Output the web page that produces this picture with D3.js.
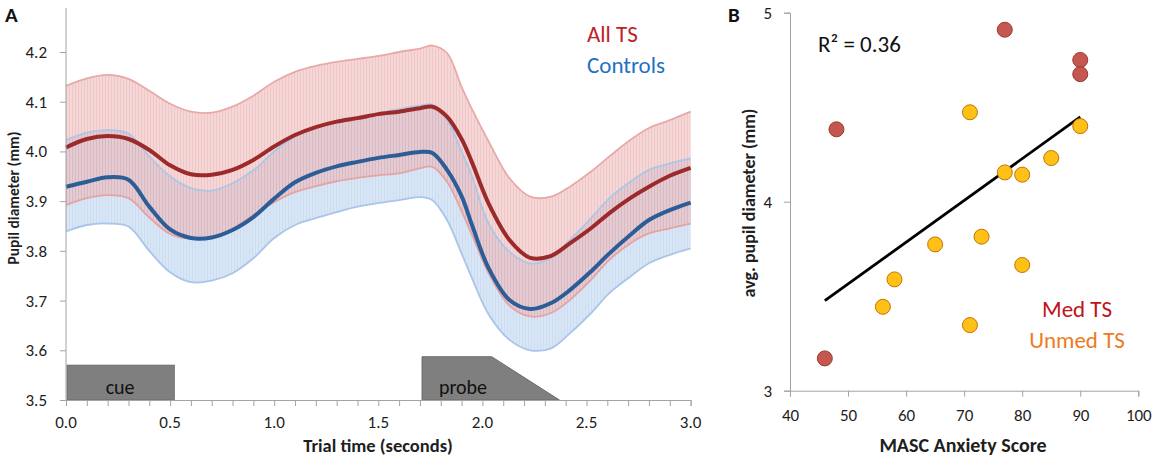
<!DOCTYPE html>
<html><head><meta charset="utf-8">
<script src="https://cdn.jsdelivr.net/npm/d3@7"></script>
<style>
body{margin:0;background:#fff}
svg text{font-family:Carlito,Lato,sans-serif}
</style></head><body>
<svg id="c" width="1158" height="461"></svg>
<script>
// ---------- Panel A data ----------
const timeS   = [0,0.1,0.2,0.3,0.4,0.5,0.6,0.7,0.8,0.9,1.0,1.1,1.2,1.3,1.4,1.5,1.6,1.7,1.76,1.83,1.9,1.95,2.03,2.13,2.23,2.33,2.42,2.52,2.61,2.71,2.8,2.9,3.0];
const tsMean  = [4.008,4.025,4.031,4.025,4.003,3.972,3.954,3.953,3.963,3.983,4.01,4.033,4.049,4.06,4.067,4.075,4.08,4.087,4.09,4.07,4.025,3.978,3.895,3.822,3.786,3.79,3.815,3.845,3.876,3.906,3.929,3.951,3.967];
const tsUpper = [4.132,4.147,4.154,4.146,4.122,4.096,4.08,4.078,4.09,4.112,4.14,4.16,4.172,4.18,4.186,4.192,4.2,4.207,4.213,4.198,4.13,4.085,4.02,3.946,3.909,3.909,3.929,3.959,3.99,4.023,4.047,4.063,4.08];
const tsLower = [3.892,3.906,3.912,3.906,3.867,3.834,3.824,3.826,3.845,3.872,3.898,3.918,3.93,3.94,3.947,3.952,3.956,3.966,3.969,3.939,3.88,3.832,3.755,3.69,3.668,3.675,3.701,3.741,3.782,3.815,3.835,3.845,3.855];
const ctMean  = [3.929,3.939,3.948,3.943,3.889,3.843,3.826,3.827,3.842,3.868,3.905,3.938,3.957,3.97,3.979,3.987,3.993,3.999,3.997,3.963,3.91,3.852,3.765,3.701,3.683,3.695,3.721,3.758,3.795,3.832,3.862,3.882,3.897];
const ctUpper = [4.023,4.038,4.043,4.036,3.99,3.95,3.926,3.921,3.936,3.962,4.0,4.03,4.048,4.062,4.07,4.077,4.085,4.092,4.094,4.064,4.0,3.95,3.855,3.798,3.775,3.785,3.822,3.865,3.906,3.939,3.963,3.976,3.986];
const ctLower = [3.839,3.852,3.855,3.849,3.80,3.757,3.737,3.74,3.755,3.785,3.826,3.852,3.866,3.878,3.889,3.896,3.902,3.908,3.902,3.862,3.795,3.745,3.672,3.621,3.60,3.604,3.634,3.674,3.715,3.748,3.775,3.792,3.805];
const yTicksA = [3.5,3.6,3.7,3.8,3.9,4.0,4.1,4.2];
const xLabelsA = [0,0.5,1.0,1.5,2.0,2.5,3.0];
const cueBox = [0, 0.52, 3.57];            // start, end, top
const probeBox = [1.71, 2.045, 2.37, 3.587]; // start, plateau end, end, top
const legendA = ["All TS","Controls"];

// ---------- Panel B data ----------
const medX   = [77,90,90,48,46];
const medY   = [4.91,4.75,4.675,4.383,3.171];
const unmedX = [71,90,85,77,80,73,65,80,58,56,71];
const unmedY = [4.473,4.40,4.231,4.155,4.143,3.815,3.774,3.665,3.589,3.444,3.347];
const xTicksB = [40,50,60,70,80,90,100];
const yTicksB = [3,4,5];
const legendB = ["Med TS","Unmed TS"];

const svg = d3.select("#c");
const axisCol = "#a3a3a3", txtCol = "#1e1e1e";

// ================= Panel A =================
const xA = d3.scaleLinear().domain([0,3]).range([66,690.6]);
const yA = d3.scaleLinear().domain([3.5,4.2]).range([400,52]);
const gA = svg.append("g");

const defs = svg.append("defs");
function stripes(id, base, stripe){
  const p = defs.append("pattern").attr("id",id).attr("patternUnits","userSpaceOnUse")
    .attr("width",3).attr("height",20);
  p.append("rect").attr("width",3).attr("height",20).attr("fill",base);
  p.append("rect").attr("width",1).attr("height",20).attr("fill",stripe);
}
stripes("pRed","#eeb6b6","#e39a9a");
stripes("pBlue","#bad2ee","#a4c2e6");

const curve = d3.curveCatmullRom.alpha(0.5);
const area = (lo,hi) => d3.area().x((d,i)=>xA(timeS[i])).y0((d,i)=>yA(lo[i])).y1((d,i)=>yA(hi[i])).curve(curve);
const line = arr => d3.line().x((d,i)=>xA(timeS[i])).y((d,i)=>yA(arr[i])).curve(curve);

gA.append("path").attr("d",area(ctLower,ctUpper)(timeS)).attr("fill","url(#pBlue)").attr("opacity",0.55);
gA.append("path").attr("d",area(tsLower,tsUpper)(timeS)).attr("fill","url(#pRed)").attr("opacity",0.55);

[[ctUpper,"#adc6e6"],[ctLower,"#a9c5e8"],[tsUpper,"#e8a9a9"],[tsLower,"#e5a3a3"]].forEach(([a,c])=>{
  gA.append("path").attr("d",line(a)(timeS)).attr("fill","none").attr("stroke",c).attr("stroke-width",1.8);
});
gA.append("path").attr("d",line(tsMean)(timeS)).attr("fill","none").attr("stroke","#9d2a2b").attr("stroke-width",4);
gA.append("path").attr("d",line(ctMean)(timeS)).attr("fill","none").attr("stroke","#2c5d97").attr("stroke-width",4);

// cue & probe boxes
gA.append("rect").attr("x",xA(cueBox[0])+1).attr("y",yA(cueBox[2]))
  .attr("width",xA(cueBox[1])-xA(cueBox[0])-1).attr("height",yA(3.5)-yA(cueBox[2]))
  .attr("fill","#7f7f7f").attr("stroke","#6d6d6d").attr("stroke-width",1);
gA.append("text").attr("x",(xA(cueBox[0])+xA(cueBox[1]))/2).attr("y",394).attr("text-anchor","middle")
  .attr("font-size",20).attr("fill","#111").text("cue");
gA.append("path").attr("d",d3.line()([
  [xA(probeBox[0]),yA(3.5)],[xA(probeBox[0]),yA(probeBox[3])],[xA(probeBox[1]),yA(probeBox[3])],[xA(probeBox[2]),yA(3.5)]
])+"Z").attr("fill","#7f7f7f").attr("stroke","#6d6d6d").attr("stroke-width",1);
gA.append("text").attr("x",463).attr("y",394).attr("text-anchor","middle")
  .attr("font-size",20).attr("fill","#111").text("probe");

// axes A
const yAxA = gA.append("g").attr("transform","translate(66,0)")
  .call(d3.axisLeft(yA).tickValues(yTicksA).tickSize(6).tickPadding(13).tickFormat(d3.format(".1f")));
yAxA.select(".domain").remove();
gA.append("line").attr("x1",66).attr("x2",66).attr("y1",8).attr("y2",400).attr("stroke",axisCol);
const xAxA = gA.append("g").attr("transform","translate(0,400)")
  .call(d3.axisBottom(xA).tickValues(d3.range(0,31).map(i=>i/10)).tickSize(6).tickFormat(""));
xAxA.select(".domain").attr("stroke",axisCol);
gA.selectAll(".tick line").attr("stroke",axisCol);
yAxA.selectAll("text").attr("font-size",17).attr("fill",txtCol).attr("font-family","Carlito,Lato,sans-serif");
gA.selectAll(".xlabA").data(xLabelsA).join("text").attr("x",d=>xA(d)).attr("y",428)
  .attr("text-anchor","middle").attr("font-size",17).attr("fill",txtCol).text(d=>d.toFixed(1));

gA.append("text").attr("x",378).attr("y",452).attr("text-anchor","middle").attr("font-size",18.5)
  .attr("font-weight","bold").attr("fill",txtCol).text("Trial time (seconds)");
gA.append("text").attr("transform","translate(19,198) rotate(-90)").attr("text-anchor","middle")
  .attr("font-size",15.5).attr("font-weight","bold").attr("fill",txtCol).text("Pupil diameter (mm)");
gA.append("text").attr("x",5).attr("y",22).attr("font-size",21).attr("font-weight","bold").attr("fill","#111").text("A");

gA.append("text").attr("x",587).attr("y",42).attr("font-size",23).attr("fill","#c0222a").text(legendA[0]);
gA.append("text").attr("x",587).attr("y",73).attr("font-size",23).attr("fill","#1f6fc3").text(legendA[1]);

// ================= Panel B =================
const xB = d3.scaleLinear().domain([40,100]).range([790,1138.3]);
const yB = d3.scaleLinear().domain([3,5]).range([390.7,12.7]);
const gB = svg.append("g");

const yAxB = gB.append("g").attr("transform","translate(790,0)")
  .call(d3.axisLeft(yB).tickValues(yTicksB).tickSize(6).tickPadding(12).tickFormat(d3.format("d")));
const xAxB = gB.append("g").attr("transform","translate(0,390.7)")
  .call(d3.axisBottom(xB).tickValues(xTicksB).tickSize(6).tickPadding(12).tickFormat(d3.format("d")));
[yAxB,xAxB].forEach(a=>{
  a.select(".domain").attr("stroke",axisCol);
  a.selectAll(".tick line").attr("stroke",axisCol);
  a.selectAll("text").attr("font-size",17).attr("fill",txtCol).attr("font-family","Carlito,Lato,sans-serif");
});

// trendline (least squares over all points)
const allX = medX.concat(unmedX), allY = medY.concat(unmedY);
const mx = d3.mean(allX), my = d3.mean(allY);
const slope = d3.sum(allX.map((x,i)=>(x-mx)*(allY[i]-my))) / d3.sum(allX.map(x=>(x-mx)*(x-mx)));
const x0 = d3.min(allX), x1 = d3.max(allX);
gB.append("line").attr("x1",xB(x0)).attr("y1",yB(my+slope*(x0-mx)))
  .attr("x2",xB(x1)).attr("y2",yB(my+slope*(x1-mx)))
  .attr("stroke","#000").attr("stroke-width",2.8);

gB.selectAll(".med").data(medX).join("circle").attr("cx",d=>xB(d)).attr("cy",(d,i)=>yB(medY[i]))
  .attr("r",7.5).attr("fill","#c4574f").attr("stroke","#9a3b2c").attr("stroke-width",1);
gB.selectAll(".unmed").data(unmedX).join("circle").attr("cx",d=>xB(d)).attr("cy",(d,i)=>yB(unmedY[i]))
  .attr("r",7.5).attr("fill","#ffc118").attr("stroke","#c27400").attr("stroke-width",1);

gB.append("text").attr("x",818).attr("y",52).attr("font-size",23).attr("fill","#111").text("R² = 0.36");
gB.append("text").attr("x",1077).attr("y",317).attr("text-anchor","middle").attr("font-size",23).attr("fill","#c0141c").text(legendB[0]);
gB.append("text").attr("x",1077).attr("y",348).attr("text-anchor","middle").attr("font-size",23).attr("fill","#ee7a22").text(legendB[1]);

gB.append("text").attr("x",963).attr("y",452).attr("text-anchor","middle").attr("font-size",20)
  .attr("font-weight","bold").attr("fill",txtCol).text("MASC Anxiety Score");
gB.append("text").attr("transform","translate(755,203) rotate(-90)").attr("text-anchor","middle")
  .attr("font-size",18).attr("font-weight","bold").attr("fill",txtCol).text("avg. pupil diameter (mm)");
gB.append("text").attr("x",728).attr("y",22).attr("font-size",21).attr("font-weight","bold").attr("fill","#111").text("B");
</script></body></html>
